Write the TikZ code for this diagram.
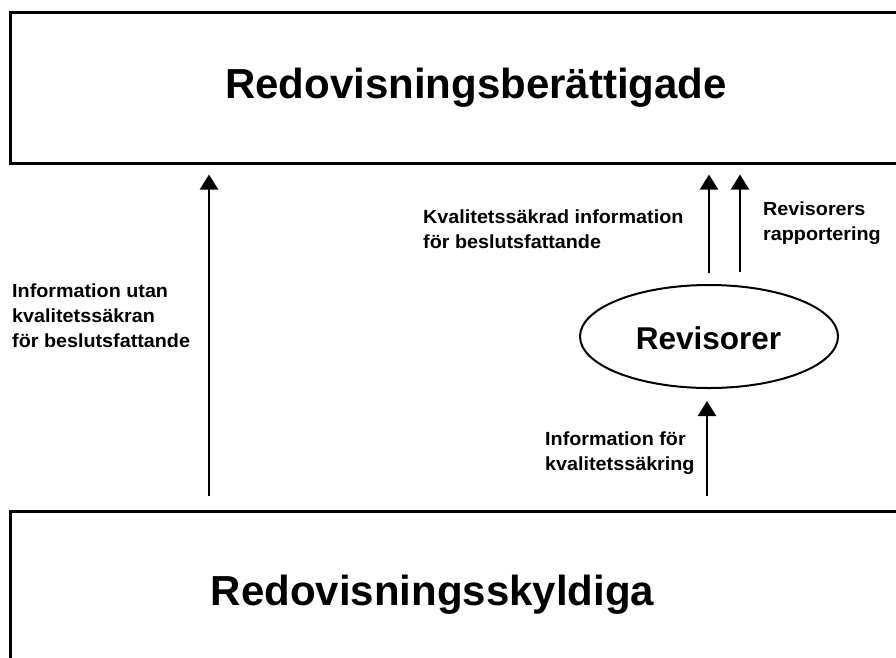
\documentclass[tikz,border=0pt]{standalone}
\usepackage{fontspec}
\setmainfont{Liberation Sans}
\newfontfamily\lblfont[FakeStretch=1.04]{Liberation Sans}
\usetikzlibrary{arrows.meta,shapes.geometric}
\tikzset{
  bigbox/.style={draw, line width=3pt, rectangle, inner sep=0pt},
  title/.style={font=\bfseries\fontsize{42}{48}\selectfont, inner sep=0pt, anchor=base},
  lbl/.style={font=\lblfont\bfseries\fontsize{19}{25}\selectfont, inner sep=0pt, align=left, anchor=base west},
  arr/.style={line width=2.2pt, -{Triangle[width=18pt,length=15pt]}},
  oval/.style={draw, ellipse, line width=2pt, inner sep=0pt}
}
\begin{document}
\begin{tikzpicture}[x=1pt,y=-1pt]
\clip (0,0) rectangle (896,657);
\fill[white] (0,0) rectangle (896,657);
% boxes
\node[bigbox, minimum width=900pt, minimum height=151pt] (top) at (460,87.5) {};
\node[bigbox, minimum width=900pt, minimum height=189pt] (bot) at (460,605.5) {};
\node[title] (toptitle) at (476,98) {Redovisningsberättigade};
\node[title] (bottitle) at (432.5,605) {Redovisningsskyldiga};
% ellipse
\node[oval, minimum width=258pt, minimum height=103pt] (rev) at (709,336.5) {};
\node[font=\bfseries\fontsize{31.5}{36}\selectfont, inner sep=0pt, anchor=base] (revtxt) at (708.5,349) {Revisorer};
% arrows
\draw[arr, shorten <=14pt, shorten >=10pt] (bot.north -| 209,0) -- (top.south -| 209,0);
\draw[arr, shorten <=11pt, shorten >=10pt] (rev.north -| 709,0) -- (top.south -| 709,0);
\draw[arr, shorten <=12pt, shorten >=10pt] (rev.north -| 740,0) -- (top.south -| 740,0);
\draw[arr, shorten <=14pt, shorten >=12pt] (bot.north -| 707,0) -- (rev.south -| 707,0);
% labels (anchor at baseline of last line)
\node[lbl] (l1) at (12,347) {Information utan\\kvalitetssäkran\\för beslutsfattande};
\node[lbl] (l2) at (423,248) {Kvalitetssäkrad information\\för beslutsfattande};
\node[lbl] (l3) at (763,240) {Revisorers\\rapportering};
\node[lbl] (l4) at (545,470) {Information för\\kvalitetssäkring};
\end{tikzpicture}
\end{document}
